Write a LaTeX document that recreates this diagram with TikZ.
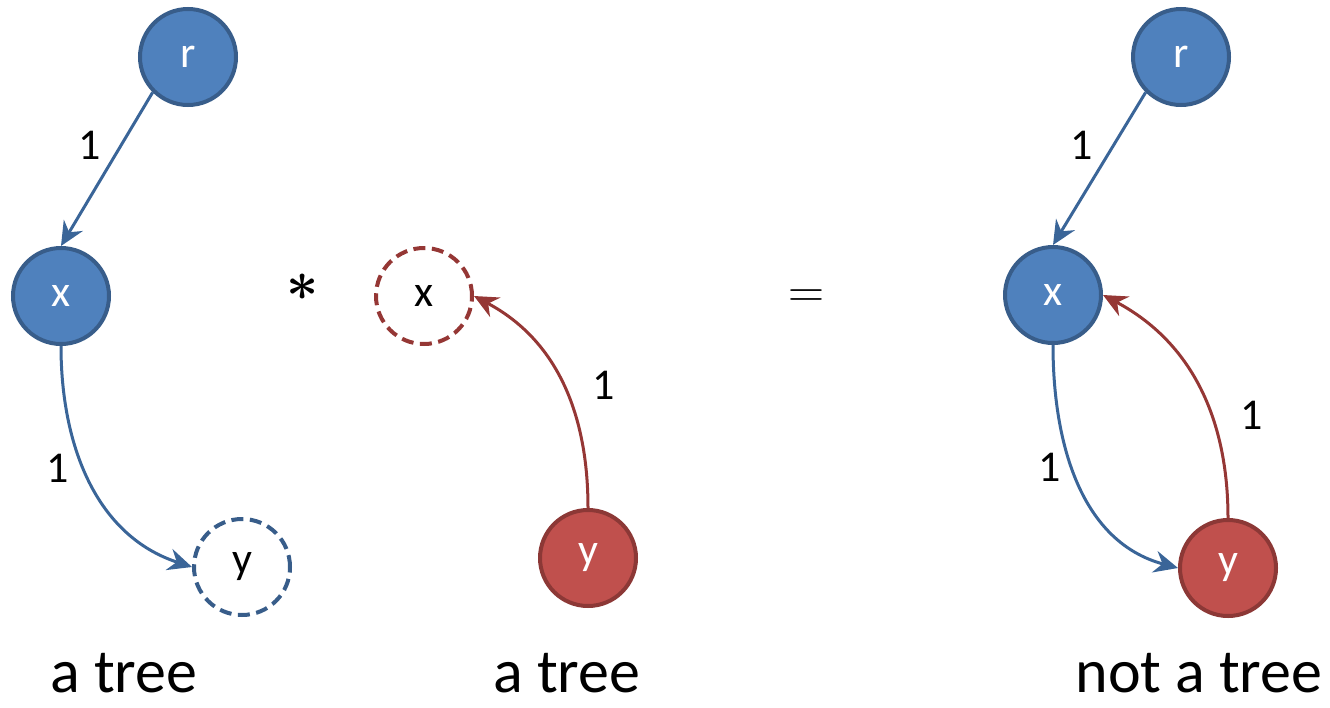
\documentclass[tikz,border=0pt]{standalone}
\usepackage{graphicx}
\usepackage{fontspec}
\setmainfont{Carlito}
\newfontfamily\lmr{Latin Modern Roman}
\usetikzlibrary{arrows.meta}
\definecolor{bfill}{HTML}{4F81BD}
\definecolor{bline}{HTML}{385D8A}
\definecolor{rfill}{HTML}{C0504D}
\definecolor{rline}{HTML}{8C3836}
\definecolor{bedge}{HTML}{3A6598}
\definecolor{redge}{HTML}{953735}
\tikzset{
  x=1pt,y=1pt,
  vtx/.style={circle,minimum size=96pt,inner sep=0pt,line width=4pt,font=\fontsize{44}{48}\selectfont},
  bluev/.style={vtx,fill=bfill,draw=bline,text=white},
  redv/.style={vtx,fill=rfill,draw=rline,text=white},
  bluedash/.style={vtx,draw=bline,dash pattern=on 12pt off 6.5pt,text=black},
  reddash/.style={vtx,draw=redge,dash pattern=on 12pt off 6.5pt,text=black},
  tip/.style={-{Stealth[length=24pt,width=22pt,inset=8pt]}},
  bedgest/.style={tip,draw=bedge,line width=3pt},
  redgest/.style={tip,draw=redge,line width=3pt},
  wlab/.style={font=\fontsize{44}{48}\selectfont,text=black},
  caption/.style={font=\fontsize{62}{66}\selectfont,text=black,inner sep=0pt,anchor=base},
  opsym/.style={inner sep=0pt,anchor=base,text=black},
}
\begin{document}
\begin{tikzpicture}
\path[use as bounding box] (0,0) rectangle (1330,-707);
% left
\node[bluev] (r1) at (188,-57) {r};
\node[bluev] (x1) at (61,-296) {x};
\node[bluedash] (y1) at (242,-567) {y};
\draw[bedgest] (r1.225) -- (x1.north);
\draw[bedgest] (x1.south) to[out=-90,in=162] (y1.west);
\node[wlab] (l1) at (90,-145) {1};
\node[wlab] (l2) at (58,-468) {1};
\node[caption] (c1) at (124,-692) {a tree};
% operator
\node[opsym] (star) at (303,-300.5) {\scalebox{5.6}{\boldmath$\ast$}};
% middle
\node[reddash] (x2) at (424,-296) {x};
\node[redv] (y2) at (588,-558) {y};
\draw[redgest] (y2.north) to[out=90,in=-28] (x2.east);
\node[wlab] (l3) at (604,-385) {1};
\node[caption] (c2) at (567,-692) {a tree};
% equals
\node[opsym,font=\lmr\fontsize{50}{54}\selectfont] (eq) at (806,-307) {=};
% right
\node[bluev] (r3) at (1181,-57) {r};
\node[bluev] (x3) at (1053,-295) {x};
\node[redv] (y3) at (1228,-568) {y};
\draw[bedgest] (r3.225) -- (x3.north);
\draw[bedgest] (x3.south) to[out=-90,in=165] (y3.west);
\draw[redgest] (y3.north) to[out=90,in=-28] (x3.east);
\node[wlab] (l4) at (1082,-145) {1};
\node[wlab] (l5) at (1050,-467) {1};
\node[wlab] (l6) at (1252,-415) {1};
\node[caption] (c3) at (1199,-692) {not a tree};
\end{tikzpicture}
\end{document}
